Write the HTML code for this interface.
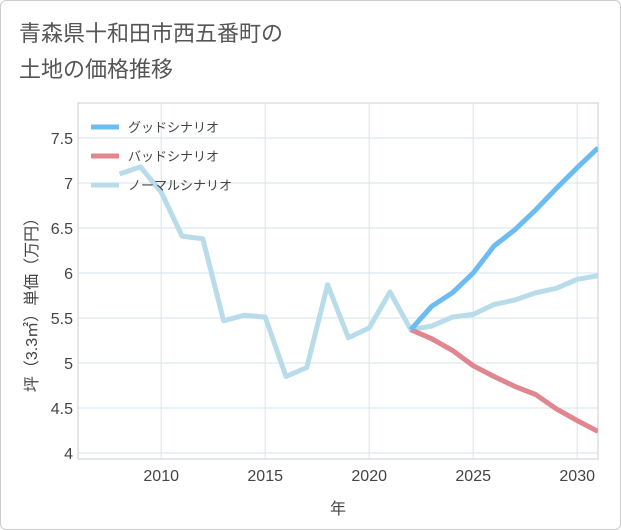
<!DOCTYPE html>
<html><head><meta charset="utf-8"><style>
body{margin:0;background:#fff;font-family:"Liberation Sans","Noto Sans CJK JP",sans-serif;}
#wrap{position:relative;width:621px;height:530px;box-sizing:border-box;border:1px solid #ccc;border-radius:6px;overflow:hidden;}
</style></head><body>
<div id="wrap">
<svg id="svg" width="621" height="530" xmlns="http://www.w3.org/2000/svg">
<text x="18" y="40" font-size="22" fill="#555" font-family="Liberation Sans, Noto Sans CJK JP, sans-serif">青森県十和田市西五番町の</text>
<text x="18" y="76" font-size="22" fill="#555" font-family="Liberation Sans, Noto Sans CJK JP, sans-serif">土地の価格推移</text>
<rect x="77" y="102" width="520" height="356" fill="#fff" stroke="#ccc"/>
<g id="grid"></g>
<g id="series"></g>
<g id="legend"></g>
<text x="337" y="513" font-size="16" fill="#444" text-anchor="middle" font-family="Liberation Sans, Noto Sans CJK JP, sans-serif">年</text>
<text transform="translate(36,300) rotate(-90)" font-size="16" fill="#444" text-anchor="middle" font-family="Liberation Sans, Noto Sans CJK JP, sans-serif">坪（3.3㎡）単価（万円）</text>
</svg>
</div>
<script>
const xTicks=[2010,2015,2020,2025,2030];
const yTicks=[4,4.5,5,5.5,6,6.5,7,7.5];
const yTickLabels=["4","4.5","5","5.5","6","6.5","7","7.5"];
const normalYears=[2008,2009,2010,2011,2012,2013,2014,2015,2016,2017,2018,2019,2020,2021,2022,2023,2024,2025,2026,2027,2028,2029,2030,2031];
const normalValues=[7.1,7.18,6.9,6.41,6.38,5.47,5.53,5.51,4.85,4.95,5.87,5.28,5.39,5.79,5.37,5.41,5.51,5.54,5.65,5.70,5.78,5.83,5.93,5.97];
const forecastYears=[2022,2023,2024,2025,2026,2027,2028,2029,2030,2031];
const goodValues=[5.37,5.63,5.78,6.0,6.3,6.48,6.7,6.94,7.17,7.39];
const badValues=[5.37,5.27,5.14,4.97,4.85,4.74,4.65,4.49,4.36,4.24];
const legendLabels=["グッドシナリオ","バッドシナリオ","ノーマルシナリオ"];
const NS="http://www.w3.org/2000/svg";
const X0=77,X1=597,Y0=102,Y1=458,XMIN=2006,XMAX=2031,YMIN=3.933,YMAX=7.889;
const xs=v=>X0+(v-XMIN)/(XMAX-XMIN)*(X1-X0);
const ys=v=>Y1-(v-YMIN)/(YMAX-YMIN)*(Y1-Y0);
function mk(t,a,p){const e=document.createElementNS(NS,t);for(const k in a)e.setAttribute(k,a[k]);p.appendChild(e);return e;}
const grid=document.getElementById('grid');
xTicks.forEach(t=>{
 const l=mk('line',{x1:xs(t),x2:xs(t),y1:Y0,y2:Y1,stroke:'#d6e4ee'},grid);
 
 
 const tx=mk('text',{x:xs(t),y:480,'font-size':16,fill:'#444','text-anchor':'middle'},grid);
 tx.textContent=t;
 
 
});
yTicks.forEach((t,i)=>{
 const l=mk('line',{x1:X0,x2:X1,y1:ys(t),y2:ys(t),stroke:'#d6e4ee'},grid);
 
 
 const tx=mk('text',{x:72,y:ys(t)+6,'font-size':16,fill:'#444','text-anchor':'end'},grid);
 tx.textContent=yTickLabels[i];
 
 
});
const sg=document.getElementById('series');
function line(years,vals,color,name){
 const d=years.map((y,i)=>(i?'L':'M')+xs(y).toFixed(1)+','+ys(vals[i]).toFixed(1)).join(' ');
 const p=mk('path',{d:d,fill:'none',stroke:color,'stroke-width':5,'stroke-linejoin':'round'},sg);
 
 
}
const clip=mk('clipPath',{id:'c'},document.getElementById('svg'));
mk('rect',{x:X0,y:Y0,width:X1-X0,height:Y1-Y0},clip);
sg.setAttribute('clip-path','url(#c)');
line(normalYears,normalValues,'#b9dcea','normal-scenario-line');
line(forecastYears,badValues,'#e0868e','bad-scenario-line');
line(forecastYears,goodValues,'#6cbcf2','good-scenario-line');
const lg=document.getElementById('legend');
const cols=['#6cbcf2','#e0868e','#b9dcea'];
legendLabels.forEach((s,i)=>{
 const y=126+i*29;
 const l=mk('line',{x1:90,x2:118,y1:y,y2:y,stroke:cols[i],'stroke-width':5},lg);
 
 
 const t=mk('text',{x:127,y:y+5,'font-size':13,fill:'#444'},lg);
 t.textContent=s;
 
 
});
</script>
</body></html>
